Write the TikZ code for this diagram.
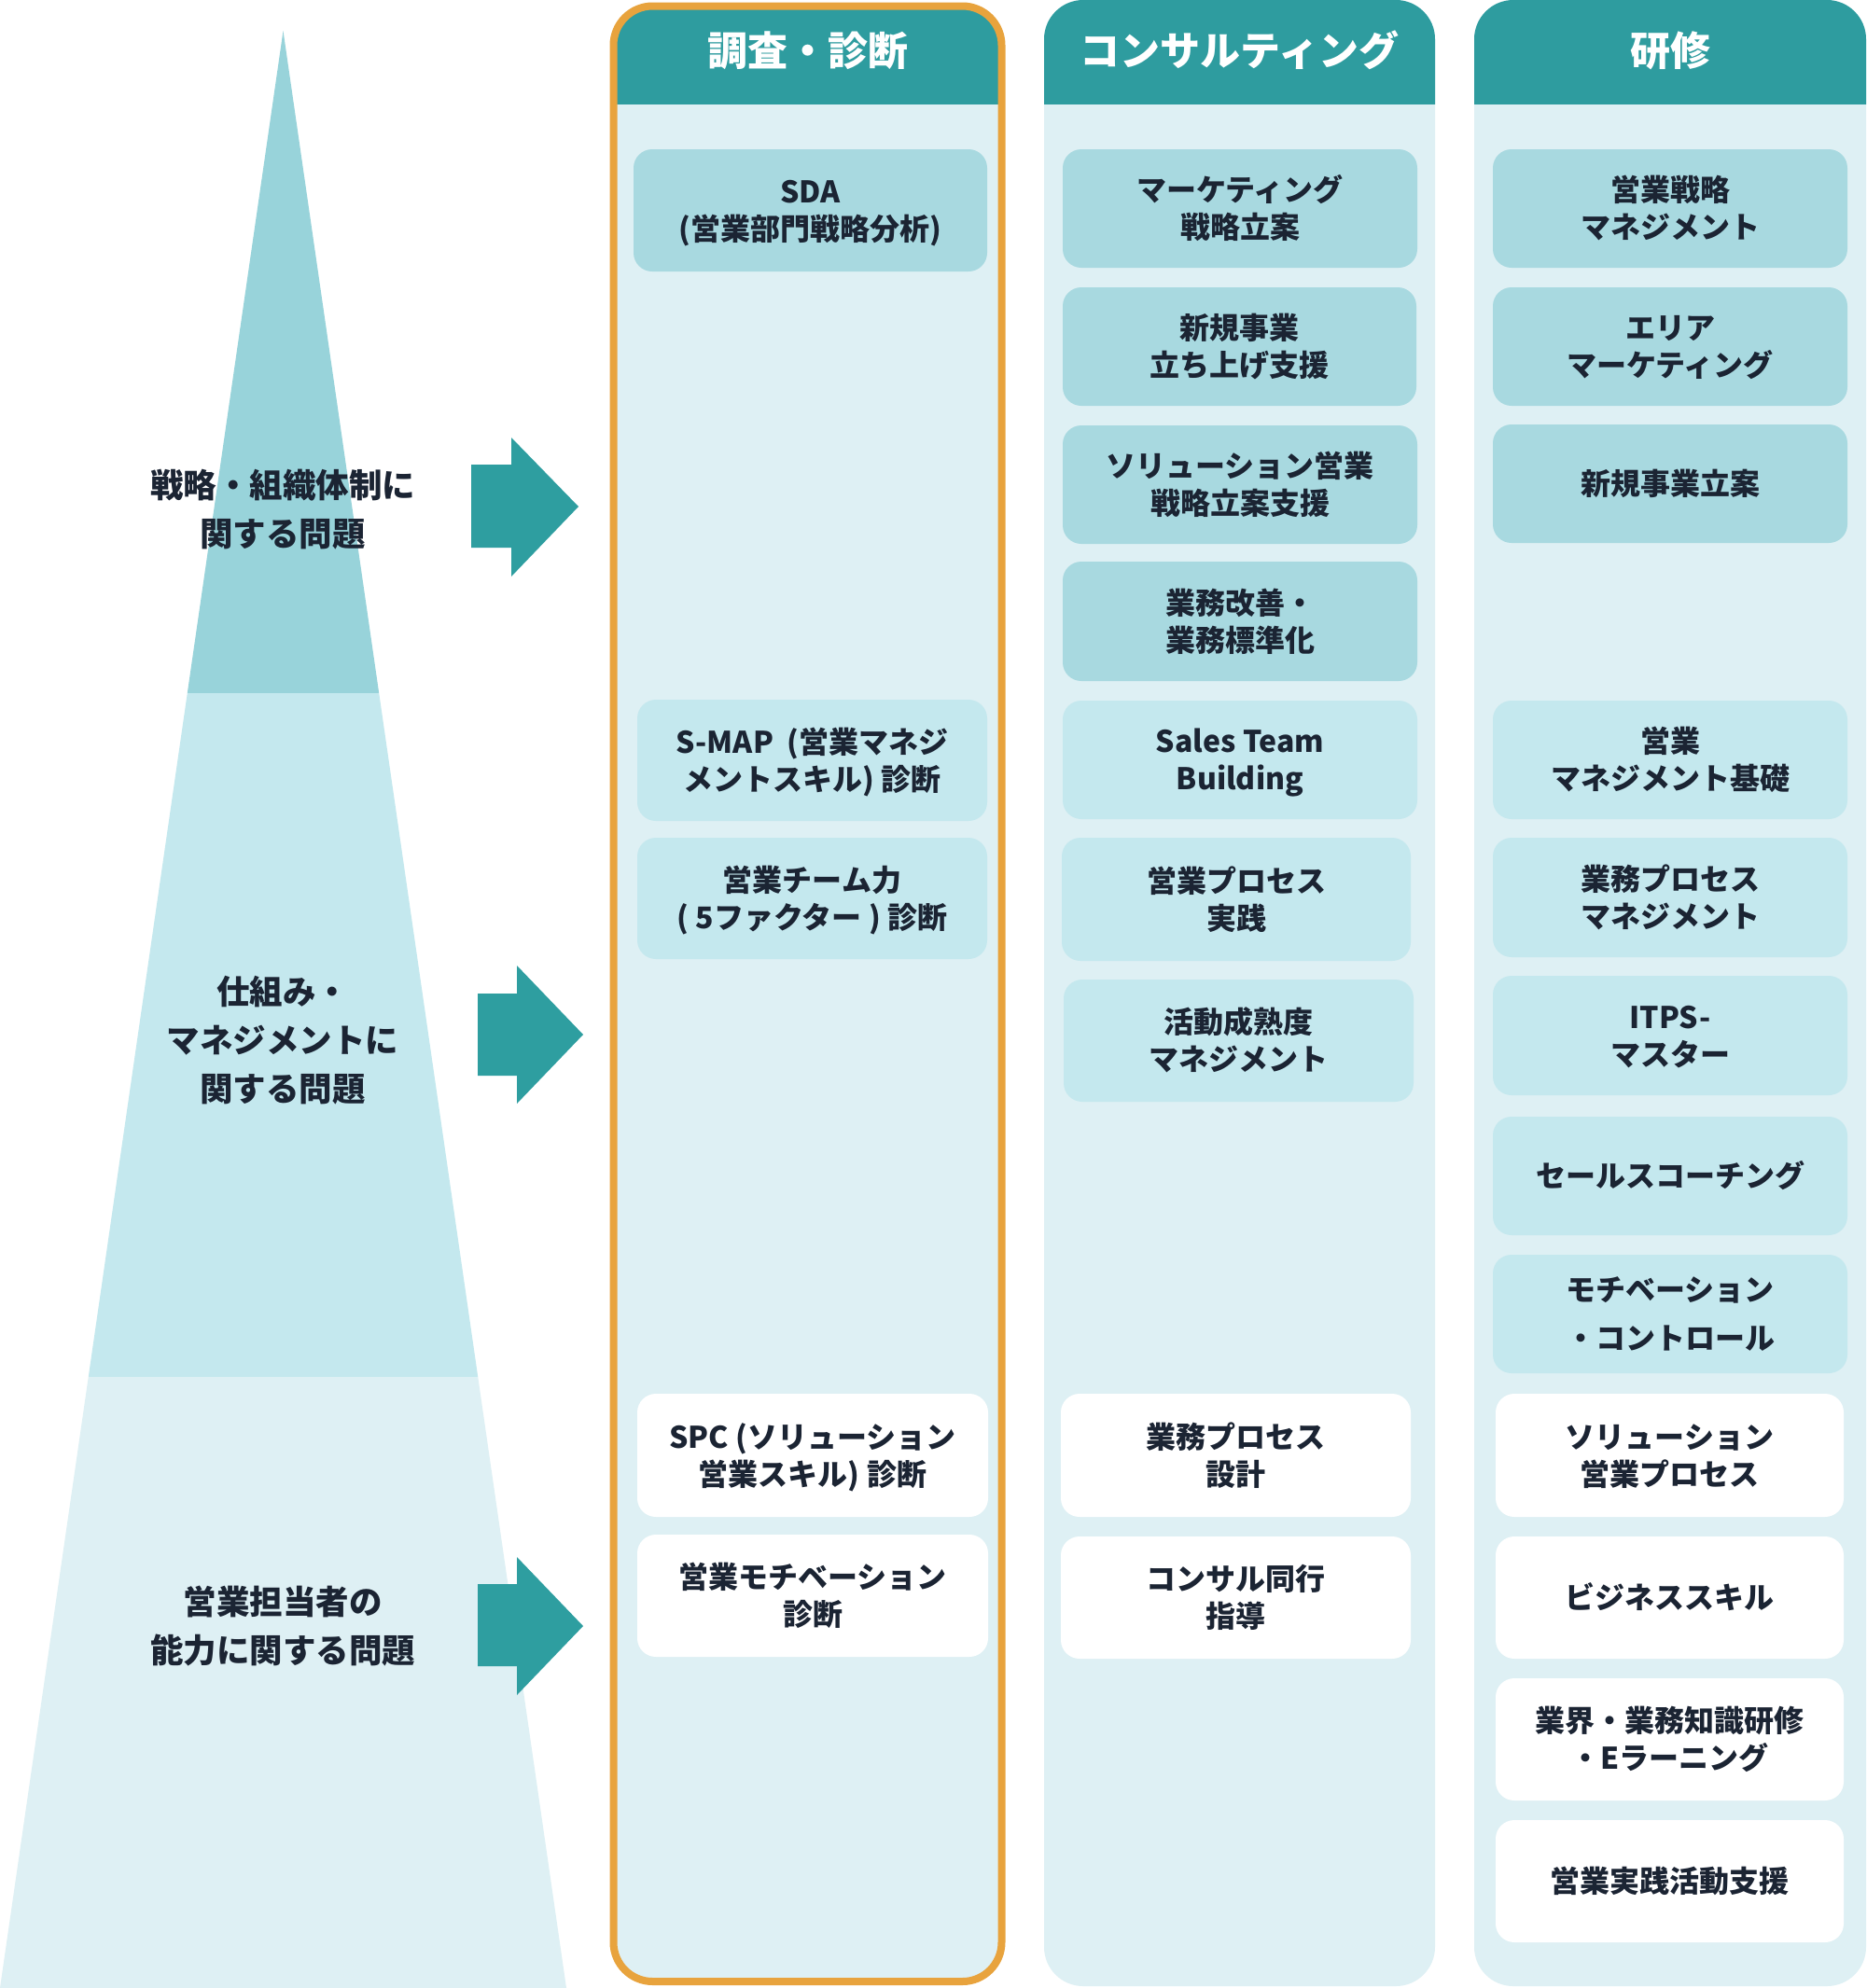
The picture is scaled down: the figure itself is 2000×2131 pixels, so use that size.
\documentclass[tikz,border=0pt]{standalone}
\usepackage{fontspec}
\setmainfont{Noto Sans CJK JP}
\definecolor{teal1}{HTML}{2E9C9F}
\definecolor{arrowc}{HTML}{2E9EA0}
\definecolor{colbody}{HTML}{DEF0F4}
\definecolor{boxdark}{HTML}{A8D9E0}
\definecolor{boxmid}{HTML}{C4E8EE}
\definecolor{triA}{HTML}{98D3DA}
\definecolor{triB}{HTML}{C4E8EE}
\definecolor{triC}{HTML}{DEF0F4}
\definecolor{orange1}{HTML}{E8A33D}
\definecolor{txt}{HTML}{1B2433}
\newcommand\kst{\rule[-8pt]{0pt}{40pt}}
\newcommand\lst{\rule[-13pt]{0pt}{52pt}}
\newcommand\kbox[7]{\node[#2,minimum width={#5-#3},minimum height={#6-#4}] (#1) at ({(#3+#5)/2},{(#4+#6)/2}) {\kst#7\kst};}
\begin{document}
\begin{tikzpicture}[x=1pt,y=-1pt,
  anybox/.style={rounded corners=20pt,inner sep=0pt,align=center,text=txt,
    font=\fontsize{32}{40}\selectfont\bfseries},
  dbox/.style={anybox,fill=boxdark},
  mbox/.style={anybox,fill=boxmid},
  wbox/.style={anybox,fill=white},
  headtxt/.style={text=white,font=\fontsize{43}{50}\selectfont\bfseries,inner sep=0pt},
  lbl/.style={text=txt,align=center,inner sep=0pt,font=\fontsize{35.5}{52}\selectfont\bfseries},
  blockarrow/.style={fill=arrowc}]
\useasboundingbox (0,0) rectangle (2000,2131);
\fill[white] (0,0) rectangle (2000,2131);

% pyramid
\begin{scope}
\clip (303.5,33) -- (607,2131) -- (0,2131) -- cycle;
\fill[triA] (0,0) rectangle (700,743);
\fill[triB] (0,743) rectangle (700,1476);
\fill[triC] (0,1476) rectangle (700,2131);
\end{scope}

\node[lbl] (l1) at (303,546.5) {\lst 戦略・組織体制に\\関する問題\lst};
\node[lbl] (l2) at (303,1115.5) {\lst 仕組み・\\マネジメントに\\関する問題\lst};
\node[lbl] (l3) at (303,1743) {\lst 営業担当者の\\能力に関する問題\lst};

% block arrows
\fill[blockarrow] (505,498) -- (548,498) -- (548,469) -- (620,543) -- (548,618) -- (548,587) -- (505,587) -- cycle;
\fill[blockarrow] (512,1065) -- (554,1065) -- (554,1035) -- (625,1109) -- (554,1183) -- (554,1153) -- (512,1153) -- cycle;
\fill[blockarrow] (512,1698) -- (554,1698) -- (554,1669) -- (625,1743) -- (554,1817) -- (554,1786) -- (512,1786) -- cycle;

% columns
\fill[colbody,rounded corners=42pt] (657.5,6.5) rectangle (1073.5,2124);
\fill[colbody,rounded corners=42pt] (1119,0) rectangle (1538,2129);
\fill[colbody,rounded corners=42pt] (1580,0) rectangle (2000,2129);
\begin{scope}
\clip (0,0) rectangle (2000,111.5);
\fill[teal1,rounded corners=42pt] (657.5,6.5) rectangle (1073.5,2124);
\fill[teal1,rounded corners=42pt] (1119,0) rectangle (1538,2129);
\fill[teal1,rounded corners=42pt] (1580,0) rectangle (2000,2129);
\end{scope}
\draw[orange1,line width=8pt,rounded corners=42pt] (657.5,6.5) rectangle (1073.5,2124);

\node[headtxt] (h1) at (865.5,54) {調査・診断};
\node[headtxt] (h2) at (1328.5,54) {コンサルティング};
\node[headtxt] (h3) at (1790,54) {研修};

% column 1
\kbox{a1}{dbox}{679}{160}{1058}{291}{SDA\\(営業部門戦略分析)}
\kbox{a2}{mbox}{683}{750}{1058}{880}{S-MAP~~(営業マネジ\\メントスキル) 診断}
\kbox{a3}{mbox}{683}{898}{1058}{1028}{営業チーム力\\( 5ファクター ) 診断}
\kbox{a4}{wbox}{683}{1494}{1059}{1626}{SPC (ソリューション\\営業スキル) 診断}
\kbox{a5}{wbox}{683}{1645}{1059}{1776}{営業モチベーション\\診断}

% column 2
\kbox{b1}{dbox}{1139}{160}{1519}{287}{マーケティング\\戦略立案}
\kbox{b2}{dbox}{1139}{308}{1518}{435}{新規事業\\立ち上げ支援}
\kbox{b3}{dbox}{1139}{456}{1519}{583}{ソリューション営業\\戦略立案支援}
\kbox{b4}{dbox}{1139}{602}{1519}{730}{業務改善・\\業務標準化}
\kbox{b5}{mbox}{1139}{751}{1519}{878}{Sales Team\\Building}
\kbox{b6}{mbox}{1138}{898}{1512}{1030}{営業プロセス\\実践}
\kbox{b7}{mbox}{1140}{1050}{1515}{1181}{活動成熟度\\マネジメント}
\kbox{b8}{wbox}{1137}{1494}{1512}{1626}{業務プロセス\\設計}
\kbox{b9}{wbox}{1137}{1647}{1512}{1778}{コンサル同行\\指導}

% column 3
\kbox{c1}{dbox}{1600}{160}{1980}{287}{営業戦略\\マネジメント}
\kbox{c2}{dbox}{1600}{308}{1980}{435}{エリア\\マーケティング}
\kbox{c3}{dbox}{1600}{455}{1980}{582}{新規事業立案}
\kbox{c4}{mbox}{1600}{751}{1980}{878}{営業\\マネジメント基礎}
\kbox{c5}{mbox}{1600}{898}{1980}{1026}{業務プロセス\\マネジメント}
\kbox{c6}{mbox}{1600}{1046}{1980}{1174}{ITPS-\\マスター}
\kbox{c7}{mbox}{1600}{1197}{1980}{1324}{セールスコーチング}
\kbox{c8}{mbox}{1600}{1345}{1980}{1472}{モチベーション\\[12pt]・コントロール}
\kbox{c9}{wbox}{1603}{1494}{1976}{1626}{ソリューション\\営業プロセス}
\kbox{c10}{wbox}{1603}{1647}{1976}{1778}{ビジネススキル}
\kbox{c11}{wbox}{1603}{1799}{1976}{1930}{業界・業務知識研修\\・Eラーニング}
\kbox{c12}{wbox}{1603}{1951}{1976}{2082}{営業実践活動支援}
\end{tikzpicture}
\end{document}
